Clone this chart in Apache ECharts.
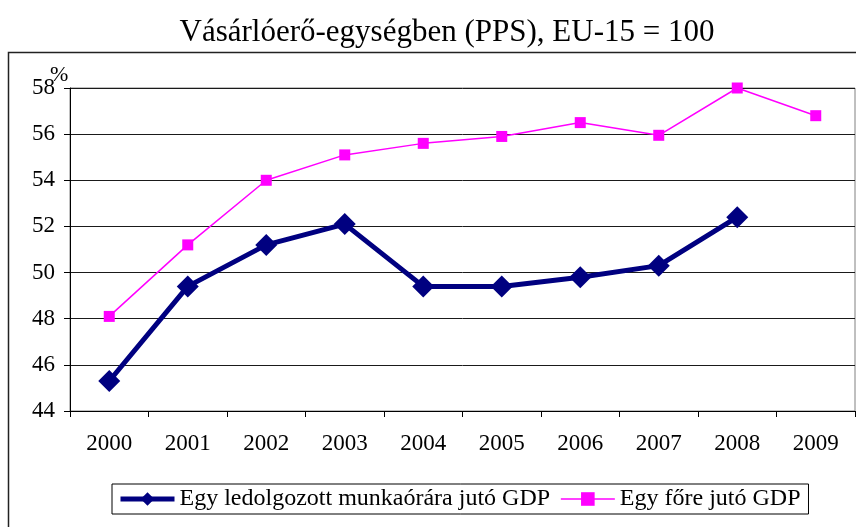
<!DOCTYPE html>
<html>
<head>
<meta charset="utf-8">
<script src="https://cdn.jsdelivr.net/npm/echarts@6/dist/echarts.min.js"></script>
<style>
  html, body { margin: 0; padding: 0; background: #fff; }
  #chart { width: 856px; height: 527px; }
</style>
</head>
<body>
<div id="chart"></div>
<script>
// years on the x axis
const years = ['2000', '2001', '2002', '2003', '2004', '2005', '2006', '2007', '2008', '2009']
// GDP per hour worked (no 2009 value)
const gdpPerHour = [45.3, 49.4, 51.2, 52.1, 49.4, 49.4, 49.8, 50.3, 52.4, null]
// GDP per capita
const gdpPerCapita = [48.1, 51.2, 54.0, 55.1, 55.6, 55.9, 56.5, 55.95, 58.0, 56.8]

const serif = '"Liberation Serif", "Times New Roman", serif'

const chart = echarts.init(document.getElementById('chart'))
chart.setOption({
  animation: false,
  backgroundColor: '#fff',
  title: {
    text: 'Vásárlóerő-egységben (PPS), EU-15 = 100',
    left: 442,
    textAlign: 'center',
    top: 12,
    textStyle: { fontFamily: serif, fontSize: 31, fontWeight: 'normal', color: '#000' }
  },
  graphic: [
    {
      type: 'rect',
      shape: { x: 8.5, y: 52.5, width: 870, height: 500 },
      style: { fill: 'none', stroke: '#222', lineWidth: 1.5 },
      silent: true
    },
    {
      // unit label above the y axis
      type: 'text',
      left: 50,
      top: 64,
      style: { text: '%', font: '22px "Liberation Serif", serif', fill: '#000' },
      silent: true
    }
  ],
  grid: {
    left: 70,
    right: 1,
    top: 88,
    bottom: 116,
    show: true,
    borderColor: '#808080',
    borderWidth: 1
  },
  xAxis: {
    type: 'category',
    data: years,
    boundaryGap: true,
    axisLine: { lineStyle: { color: '#000', width: 1 } },
    axisTick: { show: true, length: 6, lineStyle: { color: '#000' } },
    axisLabel: { margin: 21, fontFamily: serif, fontSize: 23, color: '#000' }
  },
  yAxis: {
    type: 'value',
    min: 44,
    max: 58,
    interval: 2,
    axisLine: { show: true, lineStyle: { color: '#000', width: 1 } },
    axisTick: { show: true, length: 6, lineStyle: { color: '#000' } },
    axisLabel: { margin: 15, fontFamily: serif, fontSize: 23, color: '#000' },
    splitLine: { lineStyle: { color: '#1a1a1a', width: 1 } }
  },
  legend: {
    left: 112,
    top: 484,
    orient: 'horizontal',
    padding: [3, 8, 3, 6],
    itemGap: 10,
    itemWidth: 54,
    itemHeight: 17,
    borderColor: '#000',
    borderWidth: 1,
    textStyle: { fontFamily: serif, fontSize: 24, color: '#000' },
    data: [
      { name: 'Egy ledolgozott munkaórára jutó GDP', lineStyle: { width: 5 } },
      { name: 'Egy főre jutó GDP', lineStyle: { width: 1.5 } }
    ]
  },
  series: [
    {
      name: 'Egy ledolgozott munkaórára jutó GDP',
      type: 'line',
      data: gdpPerHour,
      symbol: 'diamond',
      symbolSize: 22,
      color: '#000080',
      lineStyle: { color: '#000080', width: 5 },
      itemStyle: { color: '#000080' },
      z: 3
    },
    {
      name: 'Egy főre jutó GDP',
      type: 'line',
      data: gdpPerCapita,
      symbol: 'rect',
      symbolSize: 11,
      color: '#ff00ff',
      lineStyle: { color: '#ff00ff', width: 1.5 },
      itemStyle: { color: '#ff00ff' },
      z: 2
    }
  ]
})
</script>
</body>
</html>
